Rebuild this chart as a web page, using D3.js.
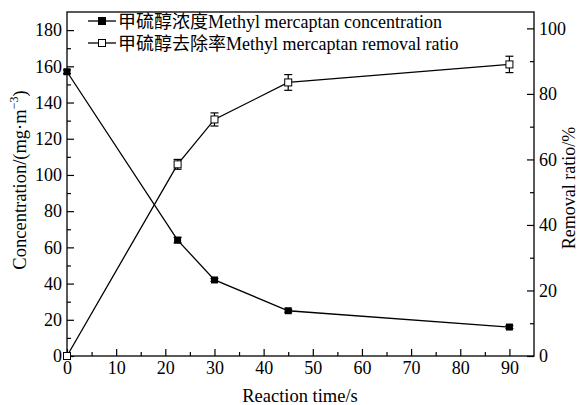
<!DOCTYPE html>
<html><head><meta charset="utf-8">
<script src="https://cdn.jsdelivr.net/npm/d3@7"></script>
<style>body{margin:0;background:#fff}svg{display:block}</style>
</head><body><svg id="c" width="580" height="405"></svg>
<script>
const times = [0, 22.5, 30, 45, 90];
const concentration = [157, 64, 42, 25, 16];
const concErr = [1, 1.5, 0.8, 0.8, 0.8];
const removal = [0, 58.5, 72.2, 83.5, 89];
const removalErr = [0, 1.5, 2, 2.4, 2.5];
const xTicks = [0,10,20,30,40,50,60,70,80,90];
const yLeftTicks = [0,20,40,60,80,100,120,140,160,180];
const yRightTicks = [0,20,40,60,80,100];
const legendLabels = ["甲硫醇浓度Methyl mercaptan concentration","甲硫醇去除率Methyl mercaptan removal ratio"];

const SERIF = "'Liberation Serif','Times New Roman','Noto Sans CJK SC',serif";
const svg = d3.select("#c");
const L=67, R=534, T=12, B=356;
const x = d3.scaleLinear().domain([0,95]).range([L,R]);
const yL = d3.scaleLinear().domain([0,190]).range([B,T]);
const yR = d3.scaleLinear().domain([0,105]).range([B,T]);

svg.append("rect").attr("x",L).attr("y",T).attr("width",R-L).attr("height",B-T).attr("fill","none").attr("stroke","#000").attr("stroke-width",1.3);

const fs = "18px";
const xa = svg.append("g").attr("transform",`translate(0,${B})`)
  .call(d3.axisBottom(x).tickValues(xTicks).tickSize(-7).tickPadding(5).tickFormat(d3.format("d")));
xa.append("g").call(d3.axisBottom(x).tickValues(d3.range(5,95,10)).tickSize(-4).tickFormat(""));
const yla = svg.append("g").attr("transform",`translate(${L},0)`)
  .call(d3.axisLeft(yL).tickValues(yLeftTicks).tickSize(-7).tickPadding(5).tickFormat(d3.format("d")));
yla.append("g").call(d3.axisLeft(yL).tickValues(d3.range(10,190,20)).tickSize(-4).tickFormat(""));
const yra = svg.append("g").attr("transform",`translate(${R},0)`)
  .call(d3.axisRight(yR).tickValues(yRightTicks).tickSize(-7).tickPadding(5).tickFormat(d3.format("d")));
yra.append("g").call(d3.axisRight(yR).tickValues(d3.range(10,105,20)).tickSize(-4).tickFormat(""));

svg.selectAll(".domain").remove();
svg.selectAll("g").attr("font-family",null).attr("font-size",null);
svg.selectAll(".tick line").attr("stroke","#000").attr("stroke-width",1.2);
svg.selectAll(".tick text").attr("fill","#000").style("font-size",fs).style("font-family",SERIF);

svg.append("text").attr("x",300).attr("y",402).attr("text-anchor","middle")
  .style("font-size","18.5px").style("font-family",SERIF).text("Reaction time/s");
const lt = svg.append("text").attr("transform",`translate(26,${(T+B)/2 - 4}) rotate(-90)`).attr("text-anchor","middle")
  .style("font-size","18.5px").style("font-family",SERIF);
lt.append("tspan").text("Concentration/(mg·m");
lt.append("tspan").attr("dy",-8).style("font-size","12px").text("−3");
lt.append("tspan").attr("dy",8).text(")");
svg.append("text").attr("transform",`translate(575,${(T+B)/2 + 4}) rotate(-90)`).attr("text-anchor","middle")
  .style("font-size","18px").style("font-family",SERIF).text("Removal ratio/%");

const lineC = d3.line().x((d,i)=>x(times[i])).y(d=>yL(d));
const lineR = d3.line().x((d,i)=>x(times[i])).y(d=>yR(d));
svg.append("path").attr("d",lineC(concentration)).attr("fill","none").attr("stroke","#000").attr("stroke-width",1.3);
svg.append("path").attr("d",lineR(removal)).attr("fill","none").attr("stroke","#000").attr("stroke-width",1.3);

function errbars(vals, errs, ys){
  const g = svg.append("g").attr("stroke","#000").attr("stroke-width",1.2);
  vals.forEach((v,i)=>{
    if(errs[i]<=0) return;
    const cx=x(times[i]), y1=ys(v-errs[i]), y2=ys(v+errs[i]);
    g.append("line").attr("x1",cx).attr("x2",cx).attr("y1",y1).attr("y2",y2);
    g.append("line").attr("x1",cx-4).attr("x2",cx+4).attr("y1",y1).attr("y2",y1);
    g.append("line").attr("x1",cx-4).attr("x2",cx+4).attr("y1",y2).attr("y2",y2);
  });
}
errbars(removal, removalErr, yR);
errbars(concentration, concErr, yL);

const s=7;
svg.append("g").selectAll("rect").data(removal).join("rect")
  .attr("x",(d,i)=>x(times[i])-s/2).attr("y",d=>yR(d)-s/2).attr("width",s).attr("height",s)
  .attr("fill","#fff").attr("stroke","#000").attr("stroke-width",1);
svg.append("g").selectAll("rect").data(concentration).join("rect")
  .attr("x",(d,i)=>x(times[i])-s/2).attr("y",d=>yL(d)-s/2).attr("width",s).attr("height",s)
  .attr("fill","#000");

const lg = svg.append("g");
legendLabels.forEach((t,i)=>{
  const y = 21 + i*22;
  lg.append("line").attr("x1",88).attr("x2",116).attr("y1",y).attr("y2",y).attr("stroke","#000").attr("stroke-width",1.3);
  lg.append("rect").attr("x",102-3.5).attr("y",y-3.5).attr("width",7).attr("height",7)
    .attr("fill",i===0?"#000":"#fff").attr("stroke","#000").attr("stroke-width",1);
  lg.append("text").attr("x",118).attr("y",y+6.5).style("font-size","18px")
    .style("font-family",SERIF).text(t);
});
</script></body></html>
